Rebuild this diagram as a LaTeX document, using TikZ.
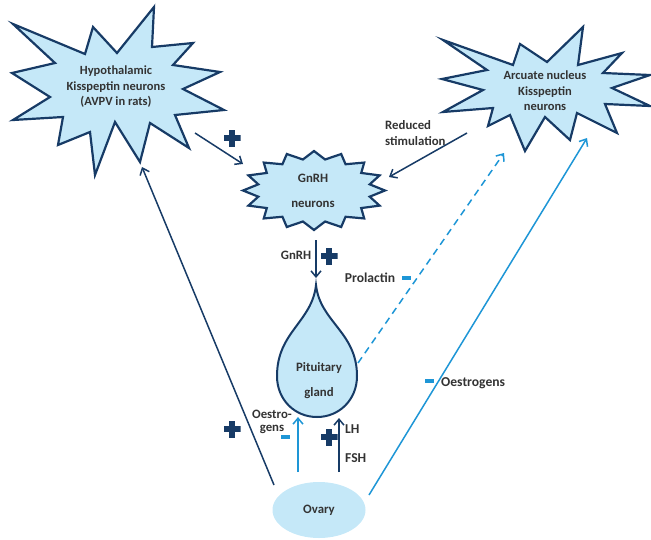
\documentclass[tikz,border=0pt]{standalone}
\usepackage{fontspec}
\setmainfont{Carlito}
\usetikzlibrary{arrows.meta,shapes.geometric}
\definecolor{navy}{HTML}{173B66}
\definecolor{paleblue}{HTML}{C5E8F8}
\definecolor{skyblue}{HTML}{1E96D6}
\definecolor{txtgray}{HTML}{333333}
\tikzset{
  lbl/.style={font=\fontsize{12.8}{15.5}\selectfont\bfseries,text=txtgray,inner sep=0pt,align=center},
  biglbl/.style={lbl,font=\fontsize{13.6}{15.5}\selectfont\bfseries},
  starbox/.style={draw=navy,fill=paleblue,line width=2.2pt,line join=miter},
  darkarrow/.style={->,draw=navy,line width=1.5pt},
  bluearrow/.style={->,draw=skyblue,line width=1.5pt},
  plussign/.style={minimum size=17pt,inner sep=0pt,
    path picture={
      \fill[navy] ([xshift=-8.5pt,yshift=-3pt]path picture bounding box.center) rectangle ([xshift=8.5pt,yshift=3pt]path picture bounding box.center);
      \fill[navy] ([xshift=-3pt,yshift=-8.5pt]path picture bounding box.center) rectangle ([xshift=3pt,yshift=8.5pt]path picture bounding box.center);}},
  minussign/.style={fill=skyblue,minimum width=9pt,minimum height=4pt,inner sep=0pt}
}
\begin{document}
\begin{tikzpicture}[x=1pt,y=-1pt,>={Straight Barb[length=6pt,width=10pt]}]
  \useasboundingbox (0,0) rectangle (651,539);
  %Sao trai
  \draw[starbox] (13,24)--(85,54)--(93,27)--(117,53)--(154,7)--(152,47)--(193,43)--(173,65)
    --(220,72)--(183,89)--(224,110)--(175,115)--(189,148)--(150,123)--(140,162)--(115,122)
    --(95,175)--(90,132)--(58,145)--(63,117)--(13,120)--(50,97)--(12,73)--(55,63)--cycle;
  \node[lbl,font=\fontsize{12.5}{15.5}\selectfont\bfseries] (hypo) at (116,87) {Hypothalamic\\Kisspeptin neurons\\(AVPV in rats)};
  %Sao phai
  \draw[starbox] (443,40)--(513,65)--(520,44)--(547,62)--(583,27)--(578,65)--(622,53)--(603,73)
    --(650,75)--(612,88)--(650,106)--(605,104)--(617,133)--(577,113)--(570,140)--(545,117)
    --(525,151)--(510,115)--(488,126)--(493,108)--(443,112)--(483,90)--(442,79)--(487,70)--cycle;
  \node[lbl,font=\fontsize{12.5}{15.5}\selectfont\bfseries] (arcuate) at (545,91) {Arcuate nucleus\\Kisspeptin\\neurons};
  %Sao GnRH
  \draw[starbox] plot[samples at={0,...,31}]
    ({314+71*(1-0.2*mod(\x,2))*cos(90+11.25*\x)},{190.5-39.5*(1-0.2*mod(\x,2))*sin(90+11.25*\x)}) -- cycle;
  \node[lbl] (gnrh) at (313,190.5) {GnRH\\[9.5pt]neurons};
  %Tuyen yen
  \draw[starbox,line width=2pt] (316,285) .. controls (320,322) and (357,332) .. (357,376)
    .. controls (357,400) and (339,417) .. (317,417) .. controls (295,417) and (277,400) .. (277,376)
    .. controls (277,332) and (312,322) .. (316,285) -- cycle;
  \node[lbl] (pit) at (319,380.5) {Pituitary\\[9.5pt]gland};
  %Buong trung
  \node[lbl,ellipse,fill=paleblue,minimum width=93pt,minimum height=56pt] (ovary) at (319,510) {Ovary};
  %Diem noi
  \coordinate (hypo-out) at (195,133);
  \coordinate (hypo-in) at (142,167);
  \coordinate (arc-out) at (467,133);
  \coordinate (arc-in) at (587,138);
  \coordinate (arc-dash) at (504,153);
  \coordinate (gnrh-l) at (243,164);
  \coordinate (gnrh-r) at (389,177);
  \coordinate (gnrh-out) at (316,240);
  \coordinate (pit-tip) at (316,278);
  \coordinate (pit-r) at (358,363);
  \coordinate (pit-bl) at (298,417);
  \coordinate (pit-br) at (339,418);
  \coordinate (ovary-l) at (274,485);
  \coordinate (ovary-r) at (369,495);
  \coordinate (ovary-tl) at (298,472);
  \coordinate (ovary-tr) at (339,472);
  %Mui ten
  \draw[darkarrow] (hypo-out) -- (gnrh-l);
  \draw[darkarrow] (arc-out) -- (gnrh-r);
  \draw[darkarrow] (gnrh-out) -- (pit-tip);
  \draw[bluearrow,dash pattern=on 7pt off 5pt] (pit-r) -- (arc-dash);
  \draw[bluearrow] (ovary-r) -- (arc-in);
  \draw[darkarrow] (ovary-l) -- (hypo-in);
  \draw[bluearrow] (ovary-tl) -- (pit-bl);
  \draw[darkarrow] (ovary-tr) -- (pit-br);
  %Nhan
  \node[lbl,align=left,anchor=west] (reduced) at (385,133) {Reduced\\stimulation};
  \node[lbl] (gnrh-lbl) at (296,255) {GnRH};
  \node[biglbl] (prolactin) at (370,278) {Prolactin};
  \node[lbl,font=\fontsize{12.8}{12.7}\selectfont\bfseries] (oestro-l) at (272,422) {Oestro-\\gens};
  \node[biglbl,anchor=west] (lh) at (345,429) {LH};
  \node[biglbl,anchor=west] (fsh) at (345,458) {FSH};
  \node[biglbl,anchor=west] (oestro-r) at (441,383) {Oestrogens};
  %Dau cong, tru
  \node[plussign] (plus-a) at (232,138) {};
  \node[plussign] (plus-b) at (329,256) {};
  \node[plussign] (plus-c) at (232,429) {};
  \node[plussign] (plus-d) at (329,437) {};
  \node[minussign] (minus-a) at (406,278) {};
  \node[minussign] (minus-b) at (285,437) {};
  \node[minussign] (minus-c) at (429,381) {};
\end{tikzpicture}
\end{document}
